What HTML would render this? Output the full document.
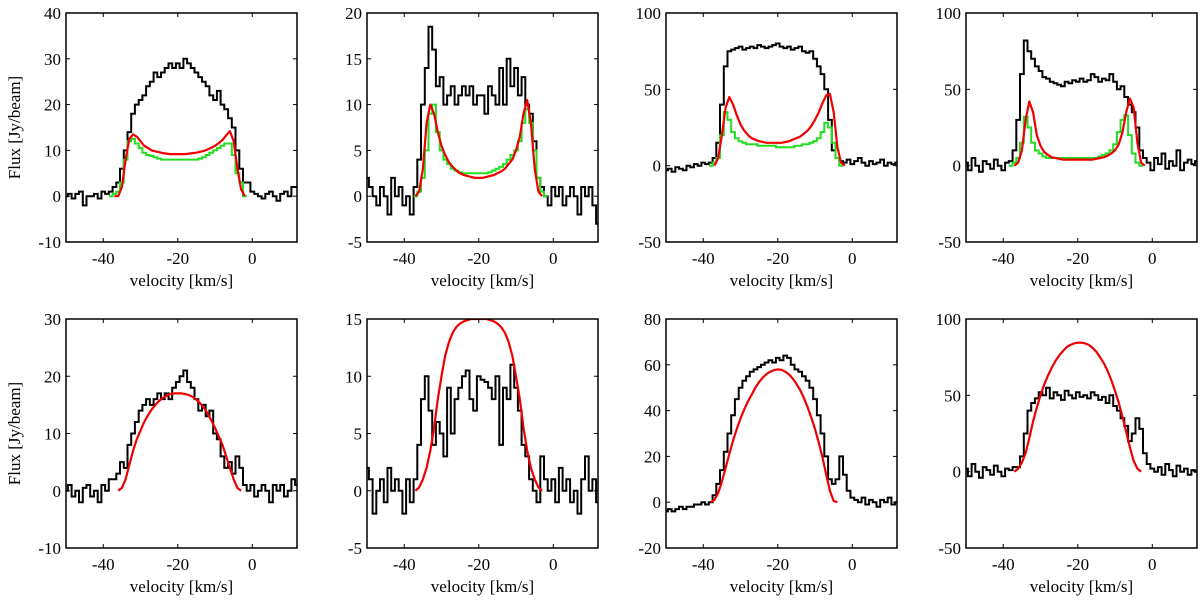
<!DOCTYPE html>
<html><head><meta charset="utf-8"><style>
html,body{margin:0;padding:0;background:#fff;}
svg{display:block;font-family:"Liberation Serif","DejaVu Serif",serif;}
</style></head><body>
<svg id="fig" width="1200" height="609" viewBox="0 0 1200 609" xmlns="http://www.w3.org/2000/svg"></svg>
<script>
const xTicks=[-40,-20,0];
const yLims=[[-10,40],[-5,20],[-50,100],[-50,100],[-10,30],[-5,15],[-20,80],[-50,100]];
const yTicks=[[-10,0,10,20,30,40],[-5,0,5,10,15,20],[-50,0,50,100],[-50,0,50,100],[-10,0,10,20,30],[-5,0,5,10,15],[-20,0,20,40,60,80],[-50,0,50,100]];
const blkStart=-50;
const blk1=[0,0.5,-0.5,0.5,1,-2,0,0,0.5,-0.5,1,0.5,1,2,3,6,10,14,18,20,21,22,24,25,27,26,27,28,29,28,29,28,30,29,28,27,26,25,24,22,21,23,20,19,17,15,10,6,3,3,1,0.5,0,-0.5,0.5,1,0,-1,0.5,1,0,2,2];
const blk2=[2,1,0,-1,1,0,-2,2,0,1,-1,0,-2,1,4,10,14,18.5,16,12,13,10,11,12,10,11,12,11,12,10,11,11,9,12,11,10,14,10,15,12,14,11,13,10,9,6,2,1,0,-1,1,0,1,-1,0,1,0,-2,1,0,1,-1,-3];
const blk3=[-3,-2,-4,-1,-2,-3,0,-1,1,0,2,1,2,5,15,40,65,75,76,77,78,76,77,78,77,79,78,77,78,79,80,78,77,78,76,77,78,75,74,75,70,65,60,50,30,10,5,3,2,4,1,3,5,2,0,3,1,2,4,0,2,1,2];
const blk4=[2,-3,5,0,-4,3,1,-2,4,0,-3,2,3,10,30,60,82,75,70,65,62,58,57,55,54,53,52,55,54,56,55,57,55,56,60,58,55,57,56,60,55,50,52,45,40,35,25,10,5,2,-3,5,1,8,-2,3,0,10,-3,2,4,1,3];
const blk5=[0,1,-1,0,-2,0.5,1,-1,0,-2,1,0,2,2,3,5,4,8,10,12,14,15,16,15,16,17,16,17,16,18,19,20,21,19,18,16,14,15,13,14,10,9,6,4,5,3,6,4,1,0,1,-1,0,1,0,-2,1,0,1,-1,0,2,1];
const blk6=[2,1,-2,0,1,-1,2,0,1,0,-2,1,-1,1,4,8,10,7,4,6,5,3,9,5,8,9,10,10.5,8,7,10,9.7,9.5,9,8,10,4,9,8,11,9,7,4,3,1,0,-1,3,1,0,1,-1,2,0,1,-1,0,-2,1,3,0,1,-1];
const blk7=[-4,-3,-4,-3,-2,-3,-2,-2,-1,-1,0,-1,0,3,8,14,22,30,38,45,50,53,55,57,58,59,60,61,62,61,63,62,64,63,60,58,57,55,53,50,45,38,30,20,10,8,10,20,12,5,2,1,0,2,-1,1,0,-2,1,0,2,-1,0];
const blk8=[2,-3,5,0,-4,3,1,-2,4,0,-3,2,1,3,3,10,25,40,45,48,52,50,55,48,52,50,47,53,50,48,52,49,50,48,52,50,47,49,45,50,43,40,35,30,20,25,35,28,12,5,2,0,3,-2,5,1,-3,4,0,2,-2,1,0];
const redStart=[-37,-37,-37,-37,-36,-37,-38,-37];
const red1=[0,0,2,8,12.5,13.5,13,12,11,10.5,10,9.8,9.6,9.4,9.3,9.2,9.2,9.2,9.2,9.2,9.3,9.4,9.5,9.7,9.9,10.2,10.6,11,11.6,12.3,13.3,14.2,12,6,1.5,0];
const red2=[0,0.5,3,8,10,9,7,5.5,4.5,3.7,3.2,2.8,2.5,2.3,2.2,2.1,2,2,2,2.1,2.2,2.3,2.5,2.7,3,3.5,4,5,6.5,9,10.5,8,3,0.5,0];
const red3=[0,5,20,38,45,40,33,27,23,20,18,17,16,15.5,15,15,15,15,15,15.5,16,17,18,19,21,23,26,30,35,41,46,47,35,12,2,0];
const red4=[0,2,10,30,42,35,20,13,9,7,5.5,5,4.5,4,4,4,4,4,4,4,4,4,4.5,5,5.5,6.5,8,10,14,22,35,44,38,15,2,0];
const red5=[0,0.5,2,4.5,7,9,10.5,12,13.2,14.2,15,15.7,16.2,16.6,16.9,17,17,17,16.9,16.7,16.4,15.9,15.3,14.5,13.5,12.3,11,9.5,8,6,4,2,0.5,0];
const red6=[0,0.3,1,2,3.5,5.5,8,10,11.8,13,13.8,14.3,14.6,14.8,14.9,15,15,15,15,15,14.9,14.8,14.6,14.3,13.8,13,11.8,10,8,5.5,3.5,2,1,0.3,0];
const red7=[0,1,4,9,15,21,27,32,36.5,40.5,44,47,50,52.5,54.5,56,57,57.7,58,57.8,57,55.8,54,51.7,49,45.5,41.5,37,32,26,19.5,12,5,0.5,0];
const red8=[0,2,6,12,22,33,42,50,57,63,68,72.5,76,79,81.5,83,84,84.5,84.5,84,83,81,78.5,75,71,66,60,53,45,36,26,16,7,2,0];
const grnStart=[-38,-37,-38,-38];
const grn1=[0,0.5,1,3,8,12,12.5,11.5,10.5,9.5,9,8.8,8.5,8.2,8,8,8,8,8,8,8,8,8,8,8.2,8.5,9,9.5,10,10.5,11,11.5,11.5,9,5,3,0];
const grn2=[0,0.5,2,5,9,10,7,5,4,3.5,3,2.8,2.6,2.5,2.5,2.5,2.5,2.5,2.5,2.5,2.6,2.8,3,3.2,3.5,4,4.5,5,6,8,9.5,8,5,2,0.5,0];
const grn3=[0,2,5,20,35,30,22,18,16,15,14,14,14,13,13,13,13,13,12,12,12,12,12,13,13,14,14,15,16,18,22,28,25,15,5,0];
const grn4=[0,2,5,15,32,25,15,10,8,6,5,5,5,5,5,5,5,5,5,5,5,5,5,5,6,7,8,10,14,22,30,33,20,8,2,0];
const blks=[blk1,blk2,blk3,blk4,blk5,blk6,blk7,blk8];
const reds=[red1,red2,red3,red4,red5,red6,red7,red8];
const grns=[grn1,grn2,grn3,grn4];

const NS='http://www.w3.org/2000/svg';
const svg=document.getElementById('fig');
const colL=[66,367,666,966], rowT=[13,319], W=231, H=229, XMIN=-50, XMAX=12;
function mk(tag,attrs,parent){const e=document.createElementNS(NS,tag);for(const k in attrs)e.setAttribute(k,attrs[k]);(parent||svg).appendChild(e);return e;}
for(let p=0;p<8;p++){
  const L=colL[p%4], T=rowT[Math.floor(p/4)], [y0,y1]=yLims[p];
  const sx=v=>L+(v-XMIN)/(XMAX-XMIN)*W;
  const sy=v=>T+H-(v-y0)/(y1-y0)*H;
  const g=mk('g',{});
  
  
  const cid='clip'+p;
  const cp=mk('clipPath',{id:cid},g);mk('rect',{x:L,y:T,width:W,height:H},cp);
  const plot=mk('g',{'clip-path':'url(#'+cid+')'},g);
  let d='';const b=blks[p];
  for(let i=0;i<b.length;i++){const v=blkStart+i;const y=sy(b[i]);d+=(i?'L':'M')+sx(v-0.5).toFixed(1)+','+y.toFixed(1)+'L'+sx(v+0.5).toFixed(1)+','+y.toFixed(1);}
  const bl=mk('path',{d:d,fill:'none',stroke:'#000','stroke-width':2},plot);
  
  
  if(p<4){
    let gd='';const gr=grns[p];
    for(let i=0;i<gr.length;i++){const v=grnStart[p]+i;const y=sy(gr[i]);gd+=(i?'L':'M')+sx(v-0.5).toFixed(1)+','+y.toFixed(1)+'L'+sx(v+0.5).toFixed(1)+','+y.toFixed(1);}
    const gl=mk('path',{d:gd,fill:'none',stroke:'#22dd22','stroke-width':2},plot);
    
    
  }
  let rd='';const r=reds[p];
  for(let i=0;i<r.length;i++){rd+=(i?'L':'M')+sx(redStart[p]+i).toFixed(1)+','+sy(r[i]).toFixed(1);}
  const rl=mk('path',{d:rd,fill:'none',stroke:'#e00','stroke-width':2.2,'stroke-linejoin':'round'},plot);
  
  
  const box=mk('rect',{x:L,y:T,width:W,height:H,fill:'none',stroke:'#000','stroke-width':1.5},g);
  
  
  for(const t of xTicks){const x=sx(t);
    mk('line',{x1:x,y1:T+H,x2:x,y2:T+H-4,stroke:'#000'},g);mk('line',{x1:x,y1:T,x2:x,y2:T+4,stroke:'#000'},g);
    const tl=mk('text',{x:x,y:T+H+22,'font-size':17,'text-anchor':'middle'},g);tl.textContent=t;
    
    
  }
  for(const t of yTicks[p]){const y=sy(t);
    mk('line',{x1:L,y1:y,x2:L+4,y2:y,stroke:'#000'},g);mk('line',{x1:L+W,y1:y,x2:L+W-4,y2:y,stroke:'#000'},g);
    const tl=mk('text',{x:L-5,y:y+6,'font-size':17,'text-anchor':'end'},g);tl.textContent=t;
    
    
  }
  const xt=mk('text',{x:L+W/2,y:T+H+44,'font-size':17,'text-anchor':'middle'},g);xt.textContent='velocity [km/s]';
  
  
  if(p%4===0){
    const yt=mk('text',{x:0,y:0,'font-size':17,'text-anchor':'middle',transform:'translate(20,'+(T+H/2)+') rotate(-90)'},g);yt.textContent='Flux [Jy/beam]';
    
    
  }
}
</script>
</body></html>
